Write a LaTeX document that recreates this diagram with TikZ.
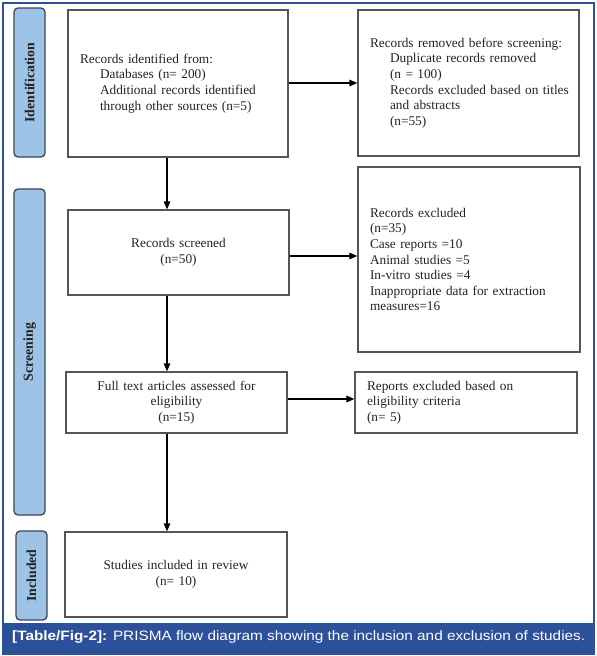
\documentclass[tikz,border=0pt]{standalone}
\usepackage{fontspec}
\setmainfont{Liberation Serif}
\newfontfamily\capfont{Liberation Sans}
\usetikzlibrary{arrows.meta}
\definecolor{frameblue}{RGB}{45,80,155}
\definecolor{labelfill}{RGB}{157,195,230}
\definecolor{labeldraw}{RGB}{60,70,85}
\definecolor{boxdraw}{RGB}{85,85,85}
\definecolor{bodytext}{RGB}{35,35,35}
\tikzset{
  flowbox/.style={draw=boxdraw, line width=1.2pt, fill=white, inner xsep=12pt, inner ysep=0pt,
    text=bodytext, font=\fontsize{13.3}{15.6}\selectfont},
  lbox/.style={flowbox, align=left},
  cbox/.style={flowbox, align=center},
  phase/.style={draw=labeldraw, line width=1.3pt, fill=labelfill, rounded corners=4pt, rotate=90,
    minimum height=31pt, inner sep=0pt, text=bodytext, font=\fontsize{13.8}{15}\selectfont\bfseries},
  arr/.style={draw=black, line width=1.3pt, -{Triangle[length=8pt,width=6.5pt]}},
}
\newcommand{\ind}{\hspace*{20pt}}
\begin{document}
\begin{tikzpicture}[x=1pt,y=-1pt]
\useasboundingbox (0,0) rectangle (597,656);
% frame and caption
\draw[frameblue, line width=1.4pt] (3,3) rectangle (594,654);
\fill[frameblue] (3,623) rectangle (594,654);
\node[anchor=base west, inner sep=0pt, text=white] (cap) at (12,640)
  {\resizebox{573pt}{\height}{\capfont\fontsize{13.6}{15}\selectfont\textbf{[Table/Fig-2]:} PRISMA flow diagram showing the inclusion and exclusion of studies.}};
% phase labels
\node[phase, minimum width=149pt] (L1) at (29.5,82.5) {Identification};
\node[phase, minimum width=326pt] (L2) at (29.5,352) {Screening};
\node[phase, minimum width=89pt] (L3) at (31.5,575.5) {Included};
% boxes
\node[lbox, text width=196pt, minimum height=147pt] (b1) at (178,83.5)
  {Records identified from:\\ \ind Databases (n= 200)\\ \ind Additional records identified\\ \ind \mbox{through other sources (n=5)}};
\node[lbox, text width=197pt, minimum height=146pt] (b2) at (468.5,83)
  {\mbox{Records removed before screening:}\\ \ind Duplicate records removed\\ \ind (n = 100)\\ \ind \mbox{Records excluded based on titles}\\ \ind and abstracts\\ \ind (n=55)};
\node[cbox, text width=197pt, minimum height=85pt] (rs) at (178.5,252.5)
  {Records screened\\ (n=50)};
\node[lbox, text width=198pt, minimum height=185pt] (b3) at (469,259.5)
  {Records excluded\\ (n=35)\\ Case reports =10\\ Animal studies =5\\ In-vitro studies =4\\ \mbox{Inappropriate data for extraction}\\ measures=16};
\node[cbox, text width=197pt, minimum height=61pt] (ft) at (176.5,402.5)
  {Full text articles assessed for\\ eligibility\\ (n=15)};
\node[lbox, text width=198pt, minimum height=61pt] (re) at (466,402.5)
  {Reports excluded based on\\ eligibility criteria\\ (n= 5)};
\node[cbox, text width=198pt, minimum height=85pt] (st) at (176,574.5)
  {Studies included in review\\ (n= 10)};
% connector helpers
\coordinate (ax) at (167,0);
\coordinate (ay0) at (0,83);
\coordinate (ay1) at (0,256);
\coordinate (ay2) at (0,399);
% connectors
\draw[arr] (b1.south -| ax) -- (rs.north -| ax);
\draw[arr] (rs.south -| ax) -- (ft.north -| ax);
\draw[arr] (ft.south -| ax) -- (st.north -| ax);
\draw[arr] (b1.east |- ay0) -- (b2.west |- ay0);
\draw[arr] (rs.east |- ay1) -- (b3.west |- ay1);
\draw[arr] (ft.east |- ay2) -- (re.west |- ay2);
\end{tikzpicture}
\end{document}
